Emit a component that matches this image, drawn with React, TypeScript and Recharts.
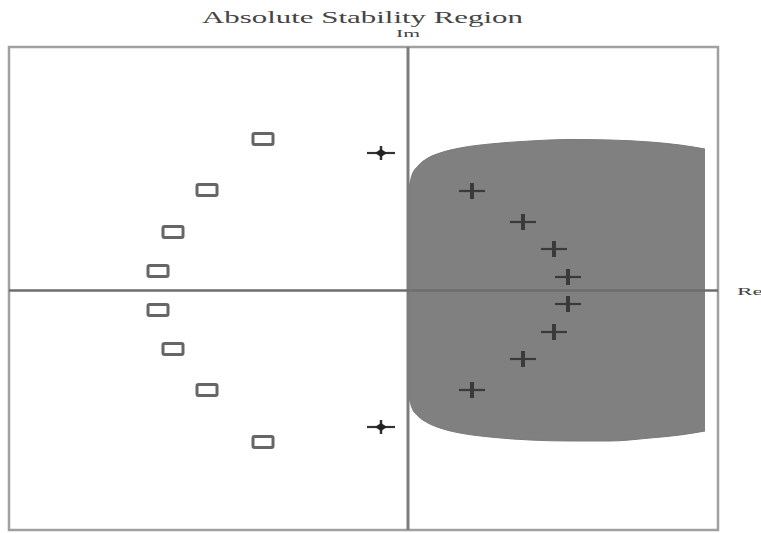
import React from "react";
import { ComposedChart, Area, Scatter, XAxis, YAxis, ReferenceLine, ReferenceArea } from "recharts";

// plot window (Re / Im units)
const reDomain: [number, number] = [-7.98, 6.2];
const imDomain: [number, number] = [-4.79, 4.87];

// shaded absolute stability region boundary
const regionRe = [0.02, 0.08, 0.2, 0.4, 0.64, 1.04, 1.64, 2.44, 3.24, 4.04, 4.84, 5.44, 5.94];
const regionTop = [2.07, 2.31, 2.49, 2.65, 2.75, 2.85, 2.93, 2.99, 3.02, 3.01, 2.97, 2.91, 2.83];
const regionBottom = [-2.15, -2.35, -2.51, -2.65, -2.75, -2.85, -2.93, -2.99, -3.01, -3.01, -2.95, -2.89, -2.81];

// hollow squares
const squareRe = [-2.9, -4.02, -4.7, -5.0, -5.0, -4.7, -4.02, -2.9];
const squareIm = [3.03, 2.01, 1.17, 0.39, -0.39, -1.17, -1.99, -3.03];

// plus markers
const plusRe = [1.28, 2.3, 2.92, 3.2, 3.2, 2.92, 2.3, 1.28];
const plusIm = [1.99, 1.37, 0.83, 0.27, -0.27, -0.83, -1.37, -1.99];

// diamond-cross markers
const starRe = [-0.54, -0.54];
const starIm = [2.75, -2.73];

const regionData = regionRe.map((re, i) => ({ re, band: [regionBottom[i], regionTop[i]] }));
const squares = squareRe.map((re, i) => ({ re, im: squareIm[i] }));
const pluses = plusRe.map((re, i) => ({ re, im: plusIm[i] }));
const stars = starRe.map((re, i) => ({ re, im: starIm[i] }));

const SquareMark = (p: any) => (
  <rect x={p.cx - 10} y={p.cy - 5.5} width={20} height={11} rx={1.5} fill="#fff" stroke="#666" strokeWidth={3} />
);

const PlusMark = (p: any) => (
  <g stroke="#3a3a3a">
    <line x1={p.cx - 13} y1={p.cy} x2={p.cx + 13} y2={p.cy} strokeWidth={2.2} />
    <line x1={p.cx} y1={p.cy - 8} x2={p.cx} y2={p.cy + 8} strokeWidth={4} />
  </g>
);

const StarMark = (p: any) => (
  <g>
    <line x1={p.cx - 14} y1={p.cy} x2={p.cx + 14} y2={p.cy} stroke="#333" strokeWidth={2.2} />
    <line x1={p.cx} y1={p.cy - 7} x2={p.cx} y2={p.cy + 7} stroke="#333" strokeWidth={2.5} />
    <path d={`M${p.cx - 6},${p.cy} L${p.cx},${p.cy - 4} L${p.cx + 6},${p.cy} L${p.cx},${p.cy + 4} Z`} fill="#222" />
  </g>
);

export default function App() {
  return (
    <div style={{ position: "absolute", left: 0, top: 0, width: 761, height: 533, background: "#fff" }}>
      <svg width={761} height={533} style={{ position: "absolute", left: 0, top: 0 }}>
        <text x={202} y={23} textLength={321} lengthAdjust="spacingAndGlyphs" fontFamily="Liberation Serif, serif" fontSize={17} fill="#444">
          Absolute Stability Region
        </text>
        <text x={396} y={37} textLength={24} lengthAdjust="spacingAndGlyphs" fontFamily="Liberation Serif, serif" fontSize={11} fill="#444">
          Im
        </text>
        <text x={737} y={295} textLength={26} lengthAdjust="spacingAndGlyphs" fontFamily="Liberation Serif, serif" fontSize={11} fill="#444">
          Re
        </text>
      </svg>
      <div style={{ position: "absolute", left: 0, top: 0 }}>
        <ComposedChart width={761} height={533} data={regionData} margin={{ left: 9, right: 43, top: 47, bottom: 3 }}>
          <XAxis dataKey="re" type="number" domain={reDomain} allowDataOverflow hide />
          <YAxis type="number" domain={imDomain} allowDataOverflow hide />
          <Area dataKey="band" type="monotone" fill="#808080" fillOpacity={1} stroke="#7a7a7a" strokeWidth={1} isAnimationActive={false} />
          <ReferenceArea x1={reDomain[0]} x2={reDomain[1]} y1={imDomain[0]} y2={imDomain[1]} fill="none" stroke="#a0a0a0" strokeWidth={2.5} />
          <ReferenceLine x={0} stroke="#7c7c7c" strokeWidth={3} />
          <ReferenceLine y={0} stroke="#6e6e6e" strokeWidth={2.5} />
          <Scatter data={squares} dataKey="im" shape={SquareMark} isAnimationActive={false} />
          <Scatter data={pluses} dataKey="im" shape={PlusMark} isAnimationActive={false} />
          <Scatter data={stars} dataKey="im" shape={StarMark} isAnimationActive={false} />
        </ComposedChart>
      </div>
    </div>
  );
}
